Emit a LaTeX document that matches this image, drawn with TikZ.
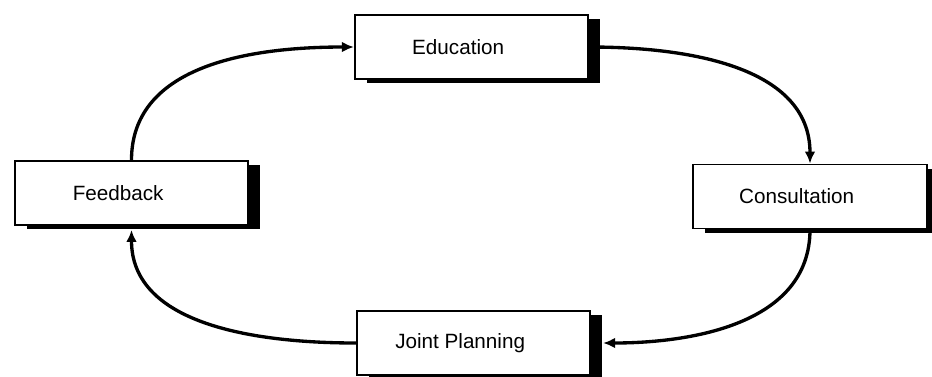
\documentclass[tikz,border=0pt]{standalone}
\usepackage{fontspec}
\setmainfont{Liberation Sans}
\usetikzlibrary{
    arrows.meta,
    shadows,
}
\tikzset{
    stagebox/.style={draw, fill=white, line width=1.4pt, inner sep=0pt,
        minimum width=175pt, minimum height=48pt,
        font=\fontsize{15.5}{18}\selectfont,
        execute at begin node=\hspace*{-20pt}, % text sits a bit left of centre
        general shadow={fill=black, shadow xshift=9pt, shadow yshift=-3pt}},
    cycleedge/.style={line width=2.5pt, -{Latex[length=9pt, width=8pt]}},
}

\begin{document}
\begin{tikzpicture}[x=0.75pt, y=-0.75pt]
        \useasboundingbox (0,0) rectangle (932,376);

        \node[stagebox] (edu) at (471.5,47) {Education};
        \node[stagebox] (fb)  at (131.5,193) {Feedback};
        \node[stagebox] (con) at (810,196.5) {Consultation};
        \node[stagebox] (jp)  at (473.5,343) {Joint Planning};

        % the cycle, clockwise
        \draw[cycleedge] (fb.north) to[out=90, in=180] (edu.west);
        \draw[cycleedge] (edu.east) to[out=0, in=90] (con.north);
        \draw[cycleedge, shorten >=9pt] (con.south) to[out=-90, in=0] (jp.east);
        \draw[cycleedge, shorten >=3pt] (jp.west) to[out=180, in=-90] (fb.south);
    \end{tikzpicture}
\end{document}
